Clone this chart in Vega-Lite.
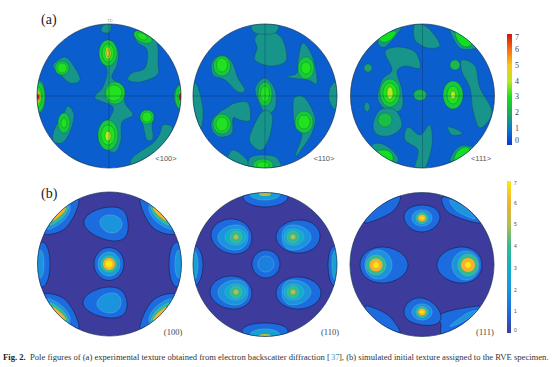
{"$schema":"https://vega.github.io/schema/vega-lite/v6.json","width":554,"height":367,"padding":0,"autosize":{"type":"none"},"background":"white","config":{"view":{"stroke":null}},
"datasets":{
"disks":[{"panel":"a100","x":109,"y":96,"v":0.6},{"panel":"a110","x":265,"y":96,"v":0.6},{"panel":"a111","x":422.5,"y":96,"v":0.6},{"panel":"b100","x":109.5,"y":264,"v":0},{"panel":"b110","x":265,"y":264.5,"v":0},{"panel":"b111","x":422,"y":264.5,"v":0}],
"afree":[
{"id":"f1","v":1.6,"x":108,"y":40},{"id":"f1","v":1.6,"x":118,"y":50},{"id":"f1","v":1.6,"x":117,"y":65},{"id":"f1","v":1.6,"x":112,"y":78},{"id":"f1","v":1.6,"x":124,"y":87},{"id":"f1","v":1.6,"x":125,"y":103},{"id":"f1","v":1.6,"x":133,"y":115},{"id":"f1","v":1.6,"x":122,"y":122},{"id":"f1","v":1.6,"x":121,"y":140},{"id":"f1","v":1.6,"x":115,"y":152},{"id":"f1","v":1.6,"x":103,"y":147},{"id":"f1","v":1.6,"x":98,"y":135},{"id":"f1","v":1.6,"x":107,"y":122},{"id":"f1","v":1.6,"x":113,"y":107},{"id":"f1","v":1.6,"x":95,"y":98},{"id":"f1","v":1.6,"x":103,"y":87},{"id":"f1","v":1.6,"x":107,"y":70},{"id":"f1","v":1.6,"x":99,"y":55},
{"id":"f2","v":1.6,"x":135,"y":32},{"id":"f2","v":1.6,"x":147,"y":30},{"id":"f2","v":1.6,"x":157,"y":43},{"id":"f2","v":1.6,"x":158,"y":63},{"id":"f2","v":1.6,"x":157,"y":75},{"id":"f2","v":1.6,"x":140,"y":82},{"id":"f2","v":1.6,"x":128,"y":80},{"id":"f2","v":1.6,"x":132,"y":73},{"id":"f2","v":1.6,"x":145,"y":68},{"id":"f2","v":1.6,"x":147,"y":50},{"id":"f2","v":1.6,"x":137,"y":42},
{"id":"f3","v":1.6,"x":53,"y":65},{"id":"f3","v":1.6,"x":65,"y":57},{"id":"f3","v":1.6,"x":75,"y":68},{"id":"f3","v":1.6,"x":80,"y":80},{"id":"f3","v":1.6,"x":70,"y":83},{"id":"f3","v":1.6,"x":58,"y":72},
{"id":"f4","v":1.6,"x":68,"y":106},{"id":"f4","v":1.6,"x":74,"y":115},{"id":"f4","v":1.6,"x":70,"y":132},{"id":"f4","v":1.6,"x":62,"y":143},{"id":"f4","v":1.6,"x":53,"y":140},{"id":"f4","v":1.6,"x":55,"y":128},{"id":"f4","v":1.6,"x":63,"y":115},
{"id":"f5","v":1.6,"x":147,"y":110},{"id":"f5","v":1.6,"x":154,"y":117},{"id":"f5","v":1.6,"x":152,"y":125},{"id":"f5","v":1.6,"x":153,"y":138},{"id":"f5","v":1.6,"x":147,"y":140},{"id":"f5","v":1.6,"x":143,"y":125},{"id":"f5","v":1.6,"x":141,"y":117},
{"id":"f6","v":1.6,"x":163,"y":125},{"id":"f6","v":1.6,"x":172,"y":127},{"id":"f6","v":1.6,"x":170,"y":140},{"id":"f6","v":1.6,"x":147,"y":157},{"id":"f6","v":1.6,"x":132,"y":165},{"id":"f6","v":1.6,"x":133,"y":157},{"id":"f6","v":1.6,"x":153,"y":143},{"id":"f6","v":1.6,"x":160,"y":133},
{"id":"f7","v":1.6,"x":33,"y":80},{"id":"f7","v":1.6,"x":43,"y":83},{"id":"f7","v":1.6,"x":45,"y":97},{"id":"f7","v":1.6,"x":43,"y":110},{"id":"f7","v":1.6,"x":33,"y":115},{"id":"f7","v":1.6,"x":30,"y":97},
{"id":"f8","v":1.6,"x":185,"y":80},{"id":"f8","v":1.6,"x":175,"y":90},{"id":"f8","v":1.6,"x":175,"y":103},{"id":"f8","v":1.6,"x":185,"y":115},{"id":"f8","v":1.6,"x":188,"y":97},
{"id":"f9","v":1.6,"x":50,"y":140},{"id":"f9","v":1.6,"x":60,"y":153},{"id":"f9","v":1.6,"x":78,"y":160},{"id":"f9","v":1.6,"x":80,"y":170},{"id":"f9","v":1.6,"x":52,"y":148},
{"id":"f10","v":1.6,"x":102,"y":27},{"id":"f10","v":1.6,"x":110,"y":22},{"id":"f10","v":1.6,"x":110,"y":32},{"id":"f10","v":1.6,"x":102,"y":32},
{"id":"g1","v":1.6,"x":255,"y":38},{"id":"g1","v":1.6,"x":265,"y":30},{"id":"g1","v":1.6,"x":280,"y":36},{"id":"g1","v":1.6,"x":286,"y":50},{"id":"g1","v":1.6,"x":285,"y":62},{"id":"g1","v":1.6,"x":270,"y":66},{"id":"g1","v":1.6,"x":255,"y":60},{"id":"g1","v":1.6,"x":257,"y":48},
{"id":"g2","v":1.6,"x":253,"y":22},{"id":"g2","v":1.6,"x":277,"y":22},{"id":"g2","v":1.6,"x":275,"y":33},{"id":"g2","v":1.6,"x":255,"y":33},
{"id":"g3","v":1.6,"x":212,"y":62},{"id":"g3","v":1.6,"x":222,"y":55},{"id":"g3","v":1.6,"x":232,"y":62},{"id":"g3","v":1.6,"x":238,"y":78},{"id":"g3","v":1.6,"x":245,"y":90},{"id":"g3","v":1.6,"x":238,"y":92},{"id":"g3","v":1.6,"x":225,"y":80},{"id":"g3","v":1.6,"x":213,"y":75},
{"id":"g4","v":1.6,"x":212,"y":120},{"id":"g4","v":1.6,"x":220,"y":112},{"id":"g4","v":1.6,"x":228,"y":107},{"id":"g4","v":1.6,"x":235,"y":103},{"id":"g4","v":1.6,"x":248,"y":103},{"id":"g4","v":1.6,"x":250,"y":120},{"id":"g4","v":1.6,"x":240,"y":120},{"id":"g4","v":1.6,"x":233,"y":118},{"id":"g4","v":1.6,"x":232,"y":133},{"id":"g4","v":1.6,"x":220,"y":137},{"id":"g4","v":1.6,"x":212,"y":130},
{"id":"g5","v":1.6,"x":255,"y":90},{"id":"g5","v":1.6,"x":265,"y":78},{"id":"g5","v":1.6,"x":275,"y":90},{"id":"g5","v":1.6,"x":275,"y":108},{"id":"g5","v":1.6,"x":265,"y":113},
{"id":"g6","v":1.6,"x":262,"y":112},{"id":"g6","v":1.6,"x":272,"y":115},{"id":"g6","v":1.6,"x":270,"y":135},{"id":"g6","v":1.6,"x":262,"y":150},{"id":"g6","v":1.6,"x":252,"y":145},{"id":"g6","v":1.6,"x":250,"y":135},
{"id":"g7","v":1.6,"x":303,"y":43},{"id":"g7","v":1.6,"x":313,"y":58},{"id":"g7","v":1.6,"x":317,"y":83},{"id":"g7","v":1.6,"x":308,"y":80},{"id":"g7","v":1.6,"x":287,"y":77},{"id":"g7","v":1.6,"x":297,"y":73},{"id":"g7","v":1.6,"x":298,"y":60},
{"id":"g8","v":1.6,"x":295,"y":97},{"id":"g8","v":1.6,"x":305,"y":98},{"id":"g8","v":1.6,"x":315,"y":117},{"id":"g8","v":1.6,"x":313,"y":130},{"id":"g8","v":1.6,"x":308,"y":140},{"id":"g8","v":1.6,"x":295,"y":157},{"id":"g8","v":1.6,"x":302,"y":135},{"id":"g8","v":1.6,"x":295,"y":127},{"id":"g8","v":1.6,"x":293,"y":107},
{"id":"g9","v":1.6,"x":340,"y":80},{"id":"g9","v":1.6,"x":330,"y":88},{"id":"g9","v":1.6,"x":330,"y":103},{"id":"g9","v":1.6,"x":340,"y":112},{"id":"g9","v":1.6,"x":344,"y":95},
{"id":"g10","v":1.6,"x":190,"y":85},{"id":"g10","v":1.6,"x":197,"y":85},{"id":"g10","v":1.6,"x":203,"y":110},{"id":"g10","v":1.6,"x":200,"y":130},{"id":"g10","v":1.6,"x":190,"y":120},
{"id":"g11","v":1.6,"x":250,"y":158},{"id":"g11","v":1.6,"x":263,"y":155},{"id":"g11","v":1.6,"x":277,"y":158},{"id":"g11","v":1.6,"x":280,"y":172},{"id":"g11","v":1.6,"x":250,"y":172},
{"id":"g12","v":1.6,"x":233,"y":150},{"id":"g12","v":1.6,"x":247,"y":160},{"id":"g12","v":1.6,"x":245,"y":170},{"id":"g12","v":1.6,"x":228,"y":162},
{"id":"h1","v":1.6,"x":415,"y":24},{"id":"h1","v":1.6,"x":428,"y":28},{"id":"h1","v":1.6,"x":440,"y":45},{"id":"h1","v":1.6,"x":428,"y":48},{"id":"h1","v":1.6,"x":415,"y":40},
{"id":"h2","v":1.6,"x":385,"y":52},{"id":"h2","v":1.6,"x":398,"y":47},{"id":"h2","v":1.6,"x":415,"y":52},{"id":"h2","v":1.6,"x":420,"y":68},{"id":"h2","v":1.6,"x":405,"y":66},{"id":"h2","v":1.6,"x":397,"y":72},{"id":"h2","v":1.6,"x":402,"y":90},{"id":"h2","v":1.6,"x":402,"y":108},{"id":"h2","v":1.6,"x":390,"y":112},{"id":"h2","v":1.6,"x":378,"y":100},{"id":"h2","v":1.6,"x":382,"y":80},{"id":"h2","v":1.6,"x":392,"y":70},
{"id":"h3","v":1.6,"x":462,"y":60},{"id":"h3","v":1.6,"x":475,"y":66},{"id":"h3","v":1.6,"x":480,"y":88},{"id":"h3","v":1.6,"x":492,"y":112},{"id":"h3","v":1.6,"x":480,"y":128},{"id":"h3","v":1.6,"x":473,"y":110},{"id":"h3","v":1.6,"x":470,"y":88},{"id":"h3","v":1.6,"x":462,"y":72},
{"id":"h4","v":1.6,"x":373,"y":125},{"id":"h4","v":1.6,"x":380,"y":110},{"id":"h4","v":1.6,"x":395,"y":110},{"id":"h4","v":1.6,"x":402,"y":125},{"id":"h4","v":1.6,"x":392,"y":135},{"id":"h4","v":1.6,"x":378,"y":135},
{"id":"h5","v":1.6,"x":408,"y":127},{"id":"h5","v":1.6,"x":420,"y":135},{"id":"h5","v":1.6,"x":430,"y":125},{"id":"h5","v":1.6,"x":432,"y":145},{"id":"h5","v":1.6,"x":425,"y":168},{"id":"h5","v":1.6,"x":415,"y":168},{"id":"h5","v":1.6,"x":418,"y":150},{"id":"h5","v":1.6,"x":405,"y":140},
{"id":"h6","v":1.6,"x":448,"y":127},{"id":"h6","v":1.6,"x":458,"y":130},{"id":"h6","v":1.6,"x":462,"y":134},{"id":"h6","v":1.6,"x":452,"y":135},
{"id":"h7","v":1.6,"x":364,"y":107},{"id":"h7","v":1.6,"x":367,"y":102},{"id":"h7","v":1.6,"x":370,"y":107},{"id":"h7","v":1.6,"x":367,"y":112},
{"id":"h8","v":1.6,"x":372,"y":145},{"id":"h8","v":1.6,"x":385,"y":145},{"id":"h8","v":1.6,"x":398,"y":158},{"id":"h8","v":1.6,"x":392,"y":169},{"id":"h8","v":1.6,"x":378,"y":160},
{"id":"h9","v":1.6,"x":450,"y":160},{"id":"h9","v":1.6,"x":460,"y":146},{"id":"h9","v":1.6,"x":475,"y":148},{"id":"h9","v":1.6,"x":476,"y":155},{"id":"h9","v":1.6,"x":458,"y":168},
{"id":"h10","v":1.6,"x":378,"y":40},{"id":"h10","v":1.6,"x":393,"y":28},{"id":"h10","v":1.6,"x":402,"y":27},{"id":"h10","v":1.6,"x":385,"y":47},
{"id":"h11","v":1.6,"x":450,"y":28},{"id":"h11","v":1.6,"x":470,"y":35},{"id":"h11","v":1.6,"x":477,"y":47},{"id":"h11","v":1.6,"x":460,"y":48}
],
"aoval":[
{"id":"o1","v":2.6,"x":99,"y":53},{"id":"o1","v":2.6,"x":108,"y":40},{"id":"o1","v":2.6,"x":117,"y":53},{"id":"o1","v":2.6,"x":108,"y":66},
{"id":"o2","v":2.6,"x":105,"y":93},{"id":"o2","v":2.6,"x":115,"y":82},{"id":"o2","v":2.6,"x":125,"y":93},{"id":"o2","v":2.6,"x":115,"y":104},
{"id":"o3","v":2.6,"x":98,"y":135},{"id":"o3","v":2.6,"x":108,"y":120},{"id":"o3","v":2.6,"x":118,"y":135},{"id":"o3","v":2.6,"x":108,"y":150},
{"id":"o4","v":2.6,"x":140,"y":117},{"id":"o4","v":2.6,"x":147,"y":110},{"id":"o4","v":2.6,"x":154,"y":117},{"id":"o4","v":2.6,"x":147,"y":124},
{"id":"o5","v":2.6,"x":55,"y":68},{"id":"o5","v":2.6,"x":62,"y":61},{"id":"o5","v":2.6,"x":69,"y":68},{"id":"o5","v":2.6,"x":62,"y":75},
{"id":"o6","v":2.6,"x":58,"y":123},{"id":"o6","v":2.6,"x":64,"y":113},{"id":"o6","v":2.6,"x":70,"y":123},{"id":"o6","v":2.6,"x":64,"y":133},
{"id":"o7","v":2.6,"x":134,"y":35},{"id":"o7","v":2.6,"x":141,"y":31},{"id":"o7","v":2.6,"x":152,"y":39},{"id":"o7","v":2.6,"x":144,"y":43},
{"id":"o8","v":2.6,"x":31,"y":97},{"id":"o8","v":2.6,"x":38,"y":82},{"id":"o8","v":2.6,"x":45,"y":97},{"id":"o8","v":2.6,"x":38,"y":112},
{"id":"o9","v":2.6,"x":175,"y":97},{"id":"o9","v":2.6,"x":181,"y":85},{"id":"o9","v":2.6,"x":187,"y":97},{"id":"o9","v":2.6,"x":181,"y":109},
{"id":"o10","v":3.1,"x":102,"y":53},{"id":"o10","v":3.1,"x":108,"y":44},{"id":"o10","v":3.1,"x":114,"y":53},{"id":"o10","v":3.1,"x":108,"y":62},
{"id":"o11","v":3.1,"x":106,"y":93},{"id":"o11","v":3.1,"x":114,"y":85},{"id":"o11","v":3.1,"x":122,"y":93},{"id":"o11","v":3.1,"x":114,"y":101},
{"id":"o12","v":3.1,"x":101,"y":135},{"id":"o12","v":3.1,"x":108,"y":125},{"id":"o12","v":3.1,"x":115,"y":135},{"id":"o12","v":3.1,"x":108,"y":145},
{"id":"o13","v":3.1,"x":142,"y":117},{"id":"o13","v":3.1,"x":147,"y":112},{"id":"o13","v":3.1,"x":152,"y":117},{"id":"o13","v":3.1,"x":147,"y":122},
{"id":"o14","v":3.1,"x":57,"y":68},{"id":"o14","v":3.1,"x":62,"y":63},{"id":"o14","v":3.1,"x":67,"y":68},{"id":"o14","v":3.1,"x":62,"y":73},
{"id":"o15","v":3.1,"x":61,"y":123},{"id":"o15","v":3.1,"x":64,"y":118},{"id":"o15","v":3.1,"x":67,"y":123},{"id":"o15","v":3.1,"x":64,"y":128},
{"id":"o16","v":3.1,"x":137,"y":35},{"id":"o16","v":3.1,"x":141,"y":33},{"id":"o16","v":3.1,"x":147,"y":37},{"id":"o16","v":3.1,"x":143,"y":40},
{"id":"o17","v":3.1,"x":34,"y":97},{"id":"o17","v":3.1,"x":38,"y":87},{"id":"o17","v":3.1,"x":42,"y":97},{"id":"o17","v":3.1,"x":38,"y":107},
{"id":"o18","v":3.1,"x":178,"y":97},{"id":"o18","v":3.1,"x":181,"y":89},{"id":"o18","v":3.1,"x":185,"y":97},{"id":"o18","v":3.1,"x":181,"y":105},
{"id":"o19","v":4,"x":105,"y":53},{"id":"o19","v":4,"x":108,"y":47},{"id":"o19","v":4,"x":111,"y":53},{"id":"o19","v":4,"x":108,"y":59},
{"id":"o20","v":4,"x":105,"y":136},{"id":"o20","v":4,"x":108,"y":131},{"id":"o20","v":4,"x":111,"y":136},{"id":"o20","v":4,"x":108,"y":141},
{"id":"o21","v":4,"x":34,"y":97},{"id":"o21","v":4,"x":37,"y":90},{"id":"o21","v":4,"x":41,"y":97},{"id":"o21","v":4,"x":37,"y":104},
{"id":"o22","v":4.7,"x":106.5,"y":53},{"id":"o22","v":4.7,"x":108,"y":49},{"id":"o22","v":4.7,"x":109.5,"y":53},{"id":"o22","v":4.7,"x":108,"y":57},
{"id":"o23","v":5.5,"x":35,"y":97},{"id":"o23","v":5.5,"x":37,"y":92},{"id":"o23","v":5.5,"x":40,"y":97},{"id":"o23","v":5.5,"x":37,"y":102},
{"id":"o24","v":7,"x":35,"y":97},{"id":"o24","v":7,"x":37,"y":94},{"id":"o24","v":7,"x":39,"y":97},{"id":"o24","v":7,"x":37,"y":100},
{"id":"o25","v":7,"x":179,"y":97},{"id":"o25","v":7,"x":181,"y":93},{"id":"o25","v":7,"x":183,"y":97},{"id":"o25","v":7,"x":181,"y":101},
{"id":"p1","v":2.6,"x":213.5,"y":66},{"id":"p1","v":2.6,"x":222,"y":56},{"id":"p1","v":2.6,"x":230.5,"y":66},{"id":"p1","v":2.6,"x":222,"y":76},
{"id":"p2","v":2.6,"x":213,"y":124},{"id":"p2","v":2.6,"x":222,"y":114},{"id":"p2","v":2.6,"x":231,"y":124},{"id":"p2","v":2.6,"x":222,"y":134},
{"id":"p3","v":2.6,"x":258,"y":94},{"id":"p3","v":2.6,"x":265,"y":82},{"id":"p3","v":2.6,"x":272,"y":94},{"id":"p3","v":2.6,"x":265,"y":106},
{"id":"p4","v":2.6,"x":253,"y":165},{"id":"p4","v":2.6,"x":263,"y":159},{"id":"p4","v":2.6,"x":273,"y":165},{"id":"p4","v":2.6,"x":263,"y":171},
{"id":"p5","v":2.6,"x":298,"y":68},{"id":"p5","v":2.6,"x":306,"y":57},{"id":"p5","v":2.6,"x":314,"y":68},{"id":"p5","v":2.6,"x":306,"y":79},
{"id":"p6","v":2.6,"x":295,"y":122},{"id":"p6","v":2.6,"x":304,"y":111},{"id":"p6","v":2.6,"x":313,"y":122},{"id":"p6","v":2.6,"x":304,"y":133},
{"id":"p7","v":3.1,"x":216.5,"y":65},{"id":"p7","v":3.1,"x":222,"y":58},{"id":"p7","v":3.1,"x":227.5,"y":65},{"id":"p7","v":3.1,"x":222,"y":72},
{"id":"p8","v":3.1,"x":216,"y":124},{"id":"p8","v":3.1,"x":222,"y":117},{"id":"p8","v":3.1,"x":228,"y":124},{"id":"p8","v":3.1,"x":222,"y":131},
{"id":"p9","v":3.1,"x":260.5,"y":94},{"id":"p9","v":3.1,"x":265,"y":86},{"id":"p9","v":3.1,"x":269.5,"y":94},{"id":"p9","v":3.1,"x":265,"y":102},
{"id":"p10","v":3.1,"x":257,"y":165},{"id":"p10","v":3.1,"x":263,"y":161.5},{"id":"p10","v":3.1,"x":269,"y":165},{"id":"p10","v":3.1,"x":263,"y":168.5},
{"id":"p11","v":3.1,"x":301,"y":68},{"id":"p11","v":3.1,"x":306,"y":62},{"id":"p11","v":3.1,"x":311,"y":68},{"id":"p11","v":3.1,"x":306,"y":74},
{"id":"p12","v":3.1,"x":298,"y":122},{"id":"p12","v":3.1,"x":304,"y":115},{"id":"p12","v":3.1,"x":310,"y":122},{"id":"p12","v":3.1,"x":304,"y":129},
{"id":"q1","v":2.6,"x":380,"y":93},{"id":"q1","v":2.6,"x":390,"y":79},{"id":"q1","v":2.6,"x":400,"y":93},{"id":"q1","v":2.6,"x":390,"y":107},
{"id":"q2","v":2.6,"x":443,"y":95},{"id":"q2","v":2.6,"x":453,"y":81},{"id":"q2","v":2.6,"x":463,"y":95},{"id":"q2","v":2.6,"x":453,"y":109},
{"id":"q3","v":2.2,"x":413.5,"y":95},{"id":"q3","v":2.2,"x":420,"y":89.5},{"id":"q3","v":2.2,"x":426.5,"y":95},{"id":"q3","v":2.2,"x":420,"y":100.5},
{"id":"q4","v":2.4,"x":378,"y":120},{"id":"q4","v":2.4,"x":385,"y":113},{"id":"q4","v":2.4,"x":392,"y":120},{"id":"q4","v":2.4,"x":385,"y":127},
{"id":"q5","v":2.3,"x":450,"y":65},{"id":"q5","v":2.3,"x":455,"y":60},{"id":"q5","v":2.3,"x":460,"y":65},{"id":"q5","v":2.3,"x":455,"y":70},
{"id":"q6","v":1.9,"x":364,"y":68},{"id":"q6","v":1.9,"x":368,"y":64},{"id":"q6","v":1.9,"x":372,"y":68},{"id":"q6","v":1.9,"x":368,"y":72},
{"id":"q7","v":3.1,"x":383,"y":93},{"id":"q7","v":3.1,"x":390,"y":83},{"id":"q7","v":3.1,"x":397,"y":93},{"id":"q7","v":3.1,"x":390,"y":103},
{"id":"q8","v":3.1,"x":447,"y":95},{"id":"q8","v":3.1,"x":453,"y":86},{"id":"q8","v":3.1,"x":459,"y":95},{"id":"q8","v":3.1,"x":453,"y":104},
{"id":"q9","v":3,"x":379,"y":37},{"id":"q9","v":3,"x":388,"y":32},{"id":"q9","v":3,"x":396,"y":33},{"id":"q9","v":3,"x":386,"y":42},
{"id":"q10","v":3,"x":455,"y":33},{"id":"q10","v":3,"x":462,"y":33},{"id":"q10","v":3,"x":472,"y":42},{"id":"q10","v":3,"x":463,"y":46},
{"id":"q11","v":3,"x":373,"y":157},{"id":"q11","v":3,"x":383,"y":150},{"id":"q11","v":3,"x":393,"y":157},{"id":"q11","v":3,"x":385,"y":166},
{"id":"q12","v":3,"x":454,"y":160},{"id":"q12","v":3,"x":462,"y":148},{"id":"q12","v":3,"x":470,"y":152},{"id":"q12","v":3,"x":462,"y":165},
{"id":"q13","v":4,"x":387,"y":93},{"id":"q13","v":4,"x":390,"y":87},{"id":"q13","v":4,"x":393,"y":93},{"id":"q13","v":4,"x":390,"y":99},
{"id":"q14","v":4,"x":450.5,"y":95},{"id":"q14","v":4,"x":453,"y":91},{"id":"q14","v":4,"x":455.5,"y":95},{"id":"q14","v":4,"x":453,"y":99}
],
"bfree":[
{"id":"r1","v":1,"x":44,"y":234},{"id":"r1","v":1,"x":63,"y":230},{"id":"r1","v":1,"x":75,"y":214},{"id":"r1","v":1,"x":78,"y":198},{"id":"r1","v":1,"x":58,"y":205},{"id":"r1","v":1,"x":45,"y":220},
{"id":"r2","v":2,"x":47,"y":229},{"id":"r2","v":2,"x":62,"y":222},{"id":"r2","v":2,"x":70,"y":210},{"id":"r2","v":2,"x":66,"y":202},{"id":"r2","v":2,"x":52,"y":212},
{"id":"r3","v":4,"x":50,"y":225},{"id":"r3","v":4,"x":63,"y":217},{"id":"r3","v":4,"x":68,"y":206},{"id":"r3","v":4,"x":56,"y":211},
{"id":"r4","v":6,"x":53,"y":221},{"id":"r4","v":6,"x":62,"y":214},{"id":"r4","v":6,"x":66,"y":208},{"id":"r4","v":6,"x":58,"y":212},
{"id":"r5","v":1,"x":175,"y":234},{"id":"r5","v":1,"x":156,"y":230},{"id":"r5","v":1,"x":144,"y":214},{"id":"r5","v":1,"x":141,"y":198},{"id":"r5","v":1,"x":161,"y":205},{"id":"r5","v":1,"x":174,"y":220},
{"id":"r6","v":2,"x":172,"y":229},{"id":"r6","v":2,"x":157,"y":222},{"id":"r6","v":2,"x":149,"y":210},{"id":"r6","v":2,"x":153,"y":202},{"id":"r6","v":2,"x":167,"y":212},
{"id":"r7","v":4,"x":169,"y":225},{"id":"r7","v":4,"x":156,"y":217},{"id":"r7","v":4,"x":151,"y":206},{"id":"r7","v":4,"x":163,"y":211},
{"id":"r8","v":6,"x":166,"y":221},{"id":"r8","v":6,"x":157,"y":214},{"id":"r8","v":6,"x":153,"y":208},{"id":"r8","v":6,"x":161,"y":212},
{"id":"r9","v":1,"x":44,"y":294},{"id":"r9","v":1,"x":63,"y":298},{"id":"r9","v":1,"x":75,"y":314},{"id":"r9","v":1,"x":78,"y":330},{"id":"r9","v":1,"x":58,"y":323},{"id":"r9","v":1,"x":45,"y":308},
{"id":"r10","v":2,"x":47,"y":299},{"id":"r10","v":2,"x":62,"y":306},{"id":"r10","v":2,"x":70,"y":318},{"id":"r10","v":2,"x":66,"y":326},{"id":"r10","v":2,"x":52,"y":316},
{"id":"r11","v":4,"x":50,"y":303},{"id":"r11","v":4,"x":63,"y":311},{"id":"r11","v":4,"x":68,"y":322},{"id":"r11","v":4,"x":56,"y":317},
{"id":"r12","v":6,"x":53,"y":307},{"id":"r12","v":6,"x":62,"y":314},{"id":"r12","v":6,"x":66,"y":320},{"id":"r12","v":6,"x":58,"y":316},
{"id":"r13","v":1,"x":175,"y":294},{"id":"r13","v":1,"x":156,"y":298},{"id":"r13","v":1,"x":144,"y":314},{"id":"r13","v":1,"x":141,"y":330},{"id":"r13","v":1,"x":161,"y":323},{"id":"r13","v":1,"x":174,"y":308},
{"id":"r14","v":2,"x":172,"y":299},{"id":"r14","v":2,"x":157,"y":306},{"id":"r14","v":2,"x":149,"y":318},{"id":"r14","v":2,"x":153,"y":326},{"id":"r14","v":2,"x":167,"y":316},
{"id":"r15","v":4,"x":169,"y":303},{"id":"r15","v":4,"x":156,"y":311},{"id":"r15","v":4,"x":151,"y":322},{"id":"r15","v":4,"x":163,"y":317},
{"id":"r16","v":6,"x":166,"y":307},{"id":"r16","v":6,"x":157,"y":314},{"id":"r16","v":6,"x":153,"y":320},{"id":"r16","v":6,"x":161,"y":316},
{"id":"s1","v":1,"x":400,"y":196},{"id":"s1","v":1,"x":392,"y":212},{"id":"s1","v":1,"x":365,"y":223},{"id":"s1","v":1,"x":378,"y":206},
{"id":"s2","v":1,"x":443,"y":197},{"id":"s2","v":1,"x":449,"y":213},{"id":"s2","v":1,"x":480,"y":223},{"id":"s2","v":1,"x":468,"y":206},
{"id":"s3","v":2,"x":450,"y":200},{"id":"s3","v":2,"x":457,"y":211},{"id":"s3","v":2,"x":475,"y":219},{"id":"s3","v":2,"x":465,"y":208},
{"id":"s4","v":1,"x":365,"y":306},{"id":"s4","v":1,"x":388,"y":315},{"id":"s4","v":1,"x":400,"y":333},{"id":"s4","v":1,"x":378,"y":323},
{"id":"s5","v":1,"x":441,"y":314},{"id":"s5","v":1,"x":470,"y":307},{"id":"s5","v":1,"x":481,"y":308},{"id":"s5","v":1,"x":466,"y":323},{"id":"s5","v":1,"x":443,"y":335},{"id":"s5","v":1,"x":441,"y":325},
{"id":"s6","v":2,"x":450,"y":326},{"id":"s6","v":2,"x":466,"y":314},{"id":"s6","v":2,"x":477,"y":311},{"id":"s6","v":2,"x":462,"y":322}
],
"boval":[
{"id":"t1","v":1,"x":42,"y":242},{"id":"t1","v":1,"x":50,"y":264},{"id":"t1","v":1,"x":42,"y":287},{"id":"t1","v":1,"x":33,"y":264},
{"id":"t2","v":2,"x":40,"y":250},{"id":"t2","v":2,"x":44,"y":264},{"id":"t2","v":2,"x":40,"y":278},{"id":"t2","v":2,"x":35,"y":264},
{"id":"t3","v":1,"x":177,"y":242},{"id":"t3","v":1,"x":169,"y":264},{"id":"t3","v":1,"x":177,"y":287},{"id":"t3","v":1,"x":186,"y":264},
{"id":"t4","v":2,"x":179,"y":250},{"id":"t4","v":2,"x":175,"y":264},{"id":"t4","v":2,"x":179,"y":278},{"id":"t4","v":2,"x":184,"y":264},
{"id":"t5","v":1,"x":84,"y":223},{"id":"t5","v":1,"x":112,"y":207},{"id":"t5","v":1,"x":128,"y":223},{"id":"t5","v":1,"x":115,"y":241},
{"id":"t6","v":2,"x":100,"y":223},{"id":"t6","v":2,"x":110,"y":215},{"id":"t6","v":2,"x":122,"y":223},{"id":"t6","v":2,"x":112,"y":233},
{"id":"t7","v":1,"x":83,"y":303},{"id":"t7","v":1,"x":110,"y":287},{"id":"t7","v":1,"x":127,"y":303},{"id":"t7","v":1,"x":112,"y":318},
{"id":"t8","v":2,"x":97,"y":303},{"id":"t8","v":2,"x":112,"y":293},{"id":"t8","v":2,"x":121,"y":303},{"id":"t8","v":2,"x":110,"y":313},
{"id":"t9","v":1,"x":94,"y":264},{"id":"t9","v":1,"x":109,"y":247.5},{"id":"t9","v":1,"x":124,"y":264},{"id":"t9","v":1,"x":109,"y":280.5},
{"id":"t10","v":2.5,"x":98,"y":264},{"id":"t10","v":2.5,"x":109,"y":252},{"id":"t10","v":2.5,"x":120,"y":264},{"id":"t10","v":2.5,"x":109,"y":276},
{"id":"t11","v":4,"x":101,"y":264},{"id":"t11","v":4,"x":109,"y":256},{"id":"t11","v":4,"x":117,"y":264},{"id":"t11","v":4,"x":109,"y":272},
{"id":"t12","v":6,"x":103,"y":264},{"id":"t12","v":6,"x":109,"y":258},{"id":"t12","v":6,"x":115,"y":264},{"id":"t12","v":6,"x":109,"y":270},
{"id":"t13","v":7,"x":105.5,"y":264},{"id":"t13","v":7,"x":109,"y":260.5},{"id":"t13","v":7,"x":112.5,"y":264},{"id":"t13","v":7,"x":109,"y":267.5},
{"id":"u1","v":1,"x":243,"y":197},{"id":"u1","v":1,"x":265,"y":207},{"id":"u1","v":1,"x":288,"y":197},{"id":"u1","v":1,"x":265,"y":188},
{"id":"u2","v":2.5,"x":250,"y":194},{"id":"u2","v":2.5,"x":265,"y":200},{"id":"u2","v":2.5,"x":280,"y":194},{"id":"u2","v":2.5,"x":265,"y":188},
{"id":"u3","v":5,"x":259,"y":194},{"id":"u3","v":5,"x":265,"y":196},{"id":"u3","v":5,"x":271,"y":194},{"id":"u3","v":5,"x":265,"y":191},
{"id":"u4","v":1,"x":242,"y":331},{"id":"u4","v":1,"x":265,"y":323},{"id":"u4","v":1,"x":288,"y":331},{"id":"u4","v":1,"x":265,"y":341},
{"id":"u5","v":2.5,"x":250,"y":335},{"id":"u5","v":2.5,"x":265,"y":329},{"id":"u5","v":2.5,"x":280,"y":335},{"id":"u5","v":2.5,"x":265,"y":341},
{"id":"u6","v":5,"x":259,"y":336},{"id":"u6","v":5,"x":265,"y":334},{"id":"u6","v":5,"x":271,"y":336},{"id":"u6","v":5,"x":265,"y":339},
{"id":"u7","v":1,"x":211,"y":235},{"id":"u7","v":1,"x":233,"y":219},{"id":"u7","v":1,"x":252,"y":238},{"id":"u7","v":1,"x":233,"y":254},
{"id":"u8","v":2,"x":218,"y":237},{"id":"u8","v":2,"x":236,"y":225},{"id":"u8","v":2,"x":248,"y":237},{"id":"u8","v":2,"x":235,"y":250},
{"id":"u9","v":3,"x":225,"y":237},{"id":"u9","v":3,"x":236,"y":229},{"id":"u9","v":3,"x":246,"y":237},{"id":"u9","v":3,"x":236,"y":245},
{"id":"u10","v":4,"x":230,"y":237},{"id":"u10","v":4,"x":236,"y":231},{"id":"u10","v":4,"x":242,"y":237},{"id":"u10","v":4,"x":236,"y":243},
{"id":"u11","v":5,"x":233.5,"y":237},{"id":"u11","v":5,"x":236,"y":234.5},{"id":"u11","v":5,"x":238.5,"y":237},{"id":"u11","v":5,"x":236,"y":239.5},
{"id":"u12","v":1,"x":210,"y":292},{"id":"u12","v":1,"x":232,"y":276},{"id":"u12","v":1,"x":252,"y":293},{"id":"u12","v":1,"x":233,"y":309},
{"id":"u13","v":2,"x":218,"y":292},{"id":"u13","v":2,"x":236,"y":280},{"id":"u13","v":2,"x":248,"y":292},{"id":"u13","v":2,"x":235,"y":305},
{"id":"u14","v":3,"x":225,"y":292},{"id":"u14","v":3,"x":236,"y":284},{"id":"u14","v":3,"x":246,"y":292},{"id":"u14","v":3,"x":236,"y":300},
{"id":"u15","v":4,"x":230,"y":292},{"id":"u15","v":4,"x":236,"y":286},{"id":"u15","v":4,"x":242,"y":292},{"id":"u15","v":4,"x":236,"y":298},
{"id":"u16","v":5,"x":233.5,"y":292},{"id":"u16","v":5,"x":236,"y":289.5},{"id":"u16","v":5,"x":238.5,"y":292},{"id":"u16","v":5,"x":236,"y":294.5},
{"id":"u17","v":1,"x":276,"y":236},{"id":"u17","v":1,"x":300,"y":220},{"id":"u17","v":1,"x":320,"y":237},{"id":"u17","v":1,"x":298,"y":253},
{"id":"u18","v":2,"x":282,"y":237},{"id":"u18","v":2,"x":293,"y":225},{"id":"u18","v":2,"x":311,"y":237},{"id":"u18","v":2,"x":293,"y":250},
{"id":"u19","v":3,"x":284,"y":237},{"id":"u19","v":3,"x":293,"y":229},{"id":"u19","v":3,"x":304,"y":237},{"id":"u19","v":3,"x":293,"y":245},
{"id":"u20","v":4,"x":287,"y":237},{"id":"u20","v":4,"x":293,"y":231},{"id":"u20","v":4,"x":299,"y":237},{"id":"u20","v":4,"x":293,"y":243},
{"id":"u21","v":5,"x":290.5,"y":237},{"id":"u21","v":5,"x":293,"y":234.5},{"id":"u21","v":5,"x":295.5,"y":237},{"id":"u21","v":5,"x":293,"y":239.5},
{"id":"u22","v":1,"x":276,"y":293},{"id":"u22","v":1,"x":298,"y":277},{"id":"u22","v":1,"x":321,"y":293},{"id":"u22","v":1,"x":298,"y":309},
{"id":"u23","v":2,"x":282,"y":292},{"id":"u23","v":2,"x":293,"y":280},{"id":"u23","v":2,"x":311,"y":292},{"id":"u23","v":2,"x":293,"y":305},
{"id":"u24","v":3,"x":284,"y":292},{"id":"u24","v":3,"x":293,"y":284},{"id":"u24","v":3,"x":304,"y":292},{"id":"u24","v":3,"x":293,"y":300},
{"id":"u25","v":4,"x":287,"y":292},{"id":"u25","v":4,"x":293,"y":286},{"id":"u25","v":4,"x":299,"y":292},{"id":"u25","v":4,"x":293,"y":298},
{"id":"u26","v":5,"x":290.5,"y":292},{"id":"u26","v":5,"x":293,"y":289.5},{"id":"u26","v":5,"x":295.5,"y":292},{"id":"u26","v":5,"x":293,"y":294.5},
{"id":"u27","v":1,"x":252,"y":264},{"id":"u27","v":1,"x":266,"y":250},{"id":"u27","v":1,"x":280,"y":264},{"id":"u27","v":1,"x":266,"y":278},
{"id":"u28","v":1.5,"x":258,"y":264},{"id":"u28","v":1.5,"x":266,"y":256},{"id":"u28","v":1.5,"x":274,"y":264},{"id":"u28","v":1.5,"x":266,"y":272},
{"id":"u29","v":1,"x":193,"y":245},{"id":"u29","v":1,"x":203,"y":265},{"id":"u29","v":1,"x":193,"y":287},{"id":"u29","v":1,"x":184,"y":265},
{"id":"u30","v":2.5,"x":193,"y":250},{"id":"u30","v":2.5,"x":198,"y":265},{"id":"u30","v":2.5,"x":193,"y":280},{"id":"u30","v":2.5,"x":187,"y":265},
{"id":"u31","v":1,"x":336,"y":245},{"id":"u31","v":1,"x":328,"y":265},{"id":"u31","v":1,"x":336,"y":287},{"id":"u31","v":1,"x":346,"y":265},
{"id":"u32","v":2.5,"x":336,"y":250},{"id":"u32","v":2.5,"x":332,"y":265},{"id":"u32","v":2.5,"x":336,"y":280},{"id":"u32","v":2.5,"x":342,"y":265},
{"id":"w1","v":1,"x":404,"y":217},{"id":"w1","v":1,"x":422,"y":205},{"id":"w1","v":1,"x":440,"y":217},{"id":"w1","v":1,"x":422,"y":232},
{"id":"w2","v":2,"x":412,"y":218},{"id":"w2","v":2,"x":422,"y":210},{"id":"w2","v":2,"x":432,"y":218},{"id":"w2","v":2,"x":422,"y":226},
{"id":"w3","v":4,"x":416,"y":218},{"id":"w3","v":4,"x":422,"y":212.5},{"id":"w3","v":4,"x":428,"y":218},{"id":"w3","v":4,"x":422,"y":223.5},
{"id":"w4","v":6,"x":418,"y":218},{"id":"w4","v":6,"x":422,"y":214.5},{"id":"w4","v":6,"x":426,"y":218},{"id":"w4","v":6,"x":422,"y":221.5},
{"id":"w5","v":7,"x":420,"y":218},{"id":"w5","v":7,"x":422,"y":216.5},{"id":"w5","v":7,"x":424,"y":218},{"id":"w5","v":7,"x":422,"y":219.5},
{"id":"w6","v":1,"x":404,"y":312},{"id":"w6","v":1,"x":422,"y":298},{"id":"w6","v":1,"x":441,"y":317},{"id":"w6","v":1,"x":422,"y":325},
{"id":"w7","v":2,"x":412,"y":312},{"id":"w7","v":2,"x":422,"y":304},{"id":"w7","v":2,"x":432,"y":312},{"id":"w7","v":2,"x":422,"y":320},
{"id":"w8","v":4,"x":416,"y":312},{"id":"w8","v":4,"x":422,"y":306.5},{"id":"w8","v":4,"x":428,"y":312},{"id":"w8","v":4,"x":422,"y":317.5},
{"id":"w9","v":6,"x":418,"y":312},{"id":"w9","v":6,"x":422,"y":308.5},{"id":"w9","v":6,"x":426,"y":312},{"id":"w9","v":6,"x":422,"y":315.5},
{"id":"w10","v":7,"x":420,"y":312},{"id":"w10","v":7,"x":422,"y":310.5},{"id":"w10","v":7,"x":424,"y":312},{"id":"w10","v":7,"x":422,"y":313.5},
{"id":"w11","v":1,"x":360,"y":265},{"id":"w11","v":1,"x":382,"y":247},{"id":"w11","v":1,"x":408,"y":265},{"id":"w11","v":1,"x":382,"y":283},
{"id":"w12","v":2,"x":365,"y":265},{"id":"w12","v":2,"x":378,"y":250},{"id":"w12","v":2,"x":392,"y":265},{"id":"w12","v":2,"x":378,"y":279},
{"id":"w13","v":4,"x":366,"y":265},{"id":"w13","v":4,"x":376,"y":255},{"id":"w13","v":4,"x":386,"y":265},{"id":"w13","v":4,"x":376,"y":275},
{"id":"w14","v":6,"x":369.5,"y":265},{"id":"w14","v":6,"x":376,"y":258.5},{"id":"w14","v":6,"x":382.5,"y":265},{"id":"w14","v":6,"x":376,"y":271.5},
{"id":"w15","v":7,"x":373,"y":265},{"id":"w15","v":7,"x":376,"y":262},{"id":"w15","v":7,"x":379,"y":265},{"id":"w15","v":7,"x":376,"y":268},
{"id":"w16","v":1,"x":437,"y":265},{"id":"w16","v":1,"x":462,"y":247},{"id":"w16","v":1,"x":482,"y":265},{"id":"w16","v":1,"x":462,"y":283},
{"id":"w17","v":2,"x":452,"y":265},{"id":"w17","v":2,"x":466,"y":251},{"id":"w17","v":2,"x":479,"y":265},{"id":"w17","v":2,"x":466,"y":280},
{"id":"w18","v":4,"x":458,"y":265},{"id":"w18","v":4,"x":468,"y":254},{"id":"w18","v":4,"x":478,"y":265},{"id":"w18","v":4,"x":468,"y":276},
{"id":"w19","v":6,"x":461,"y":265},{"id":"w19","v":6,"x":468,"y":258},{"id":"w19","v":6,"x":475,"y":265},{"id":"w19","v":6,"x":468,"y":272},
{"id":"w20","v":7,"x":465,"y":265},{"id":"w20","v":7,"x":468,"y":262},{"id":"w20","v":7,"x":471,"y":265},{"id":"w20","v":7,"x":468,"y":268}
]},
"encoding":{"x":{"field":"x","type":"quantitative","axis":null,"scale":{"domain":[0,554],"nice":false,"zero":false}},"y":{"field":"y","type":"quantitative","axis":null,"scale":{"domain":[0,367],"nice":false,"zero":false,"reverse":true}}},
"layer":[
{"layer":[
{"data":{"name":"disks"},"transform":[{"filter":"datum.v>0"}],"mark":{"type":"point","filled":true,"size":20736,"opacity":1},"encoding":{"color":{"field":"v","type":"quantitative","scale":{"domain":[0,1,2,3,4,5,6,7],"range":["#0838d8","#0c78c8","#1fa860","#10e020","#b8e820","#f8c818","#f87010","#d81010"],"interpolate":"rgb"},"legend":{"title":null,"orient":"none","legendX":507,"legendY":34,"direction":"vertical","gradientLength":111,"gradientThickness":5,"values":[0,1,2,3,4,5,6,7],"labelFontSize":8,"labelColor":"#444","labelFont":"Liberation Serif","labelOffset":3,"tickCount":8}}}},
{"data":{"name":"afree"},"mark":{"type":"line","filled":true,"interpolate":"cardinal-closed","order":false,"stroke":"#124a60","strokeWidth":0.4},"encoding":{"detail":{"field":"id"},"color":{"field":"v","type":"quantitative","legend":null}}},
{"data":{"name":"aoval"},"mark":{"type":"line","filled":true,"interpolate":"cardinal-closed","tension":-0.65,"order":false,"stroke":"#124a30","strokeWidth":0.3},"encoding":{"detail":{"field":"id"},"color":{"field":"v","type":"quantitative","legend":null}}}
]},
{"layer":[
{"data":{"name":"disks"},"transform":[{"filter":"datum.v==0"}],"mark":{"type":"point","filled":true,"size":20736,"opacity":1},"encoding":{"color":{"field":"v","type":"quantitative","scale":{"domain":[0,1,2,3,4,5,6,7],"range":["#3d3c9c","#1c6ce0","#1a94dc","#10aec8","#35ba8e","#b5bc50","#f6b12e","#f8e812"],"interpolate":"rgb"},"legend":{"title":null,"orient":"none","legendX":507,"legendY":181,"direction":"vertical","gradientLength":152,"gradientThickness":4,"values":[0,1,2,3,4,5,6,7],"labelFontSize":5,"labelColor":"#555","labelOffset":3,"tickCount":8}}}},
{"data":{"name":"bfree"},"mark":{"type":"line","filled":true,"interpolate":"cardinal-closed","order":false,"strokeWidth":0.5},"encoding":{"detail":{"field":"id"},"color":{"field":"v","type":"quantitative","legend":null},"stroke":{"condition":[{"test":"datum.v==1","value":"#101030"},{"test":"datum.v>=5","value":"transparent"}],"value":"#60b0d8"}}},
{"data":{"name":"boval"},"mark":{"type":"line","filled":true,"interpolate":"cardinal-closed","tension":-0.65,"order":false,"strokeWidth":0.5},"encoding":{"detail":{"field":"id"},"color":{"field":"v","type":"quantitative","legend":null},"stroke":{"condition":[{"test":"datum.v==1","value":"#101030"},{"test":"datum.v>=5","value":"transparent"}],"value":"#60b0d8"}}}
]},
{"data":{"name":"disks"},"mark":{"type":"point","filled":false,"size":24025,"stroke":"white","strokeWidth":11,"opacity":1}},
{"data":{"name":"disks"},"mark":{"type":"point","filled":false,"size":20736,"stroke":"#0c2a50","strokeWidth":0.7,"opacity":1}},
{"data":{"values":[{"x":37,"x2":181,"y":96,"y2":96},{"x":109,"x2":109,"y":24,"y2":168},{"x":193,"x2":337,"y":96,"y2":96},{"x":265,"x2":265,"y":24,"y2":168},{"x":350.5,"x2":494.5,"y":96,"y2":96},{"x":422.5,"x2":422.5,"y":24,"y2":168}]},"mark":{"type":"rule","color":"#12204a","strokeWidth":0.5,"opacity":0.6},"encoding":{"x2":{"field":"x2"},"y2":{"field":"y2"}}},
{"data":{"values":[{"t":"(a)","x":41,"y":20},{"t":"(b)","x":41,"y":194}]},"mark":{"type":"text","font":"Liberation Serif","fontSize":14,"align":"left","color":"#222"},"encoding":{"text":{"field":"t"}}},
{"data":{"values":[{"t":"TD","x":110,"y":21}]},"mark":{"type":"text","font":"Liberation Sans","fontSize":4,"align":"center","color":"#888"},"encoding":{"text":{"field":"t"}}},
{"data":{"values":[{"t":"<100>","x":166,"y":159},{"t":"<110>","x":324,"y":159},{"t":"<111>","x":481,"y":159}]},"mark":{"type":"text","font":"Liberation Sans","fontSize":7.5,"align":"center","color":"#555"},"encoding":{"text":{"field":"t"}}},
{"data":{"values":[{"t":"(100)","x":173,"y":332},{"t":"(110)","x":330,"y":332},{"t":"(111)","x":485,"y":332}]},"mark":{"type":"text","font":"Liberation Serif","fontSize":8.5,"align":"center","color":"#444"},"encoding":{"text":{"field":"t"}}},
{"data":{"values":[{"t":"Fig. 2.","x":3,"y":360}]},"mark":{"type":"text","font":"Liberation Serif","fontSize":8.6,"fontWeight":"bold","align":"left","baseline":"alphabetic","color":"#222"},"encoding":{"text":{"field":"t"}}},
{"data":{"values":[{"t":"Pole figures of (a) experimental texture obtained from electron backscatter diffraction [","x":30,"y":360},{"t":"], (b) simulated initial texture assigned to the RVE specimen.","x":339,"y":360}]},"mark":{"type":"text","font":"Liberation Serif","fontSize":8.6,"align":"left","baseline":"alphabetic","color":"#333"},"encoding":{"text":{"field":"t"}}},
{"data":{"values":[{"t":"37","x":331,"y":360}]},"mark":{"type":"text","font":"Liberation Serif","fontSize":8.6,"align":"left","baseline":"alphabetic","color":"#3aa0c8"},"encoding":{"text":{"field":"t"}}}
],
"resolve":{"scale":{"color":"independent"}}}
